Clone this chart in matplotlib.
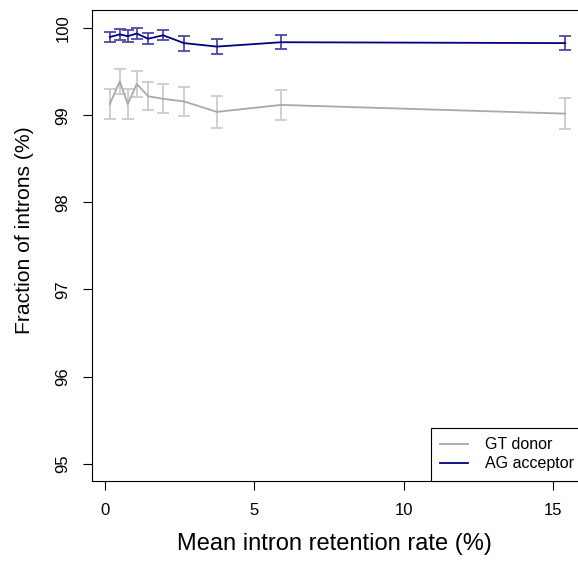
import numpy as np
import matplotlib
matplotlib.use("Agg")
import matplotlib.pyplot as plt
from matplotlib.lines import Line2D

plt.rcParams['font.family'] = ['Liberation Sans', 'DejaVu Sans']

# valores
retencao = [0.17, 0.5, 0.77, 1.07, 1.45, 1.95, 2.65, 3.75, 5.9, 15.4]
gt_doador = [99.13, 99.39, 99.13, 99.36, 99.22, 99.19, 99.16, 99.04, 99.12, 99.02]
gt_erro = [0.17, 0.14, 0.17, 0.15, 0.16, 0.165, 0.17, 0.18, 0.17, 0.18]
ag_aceptor = [99.90, 99.93, 99.91, 99.94, 99.88, 99.92, 99.83, 99.79, 99.84, 99.83]
ag_erro = [0.063, 0.06, 0.065, 0.06, 0.065, 0.06, 0.085, 0.086, 0.078, 0.08]

cor_gt = '#a9a9a9'
cor_ag = '#000080'

fig = plt.figure(figsize=(5.78, 5.63), dpi=100)
# a caixa do grafico passa um pouco da borda direita, como no original
ax = fig.add_axes([0.159, 0.1456, 0.851, 0.8366])

ax.errorbar(retencao, gt_doador, yerr=gt_erro, color=cor_gt, ecolor='#cccccc',
            elinewidth=1.3, capsize=4.3, capthick=1.3, lw=1.3)
ax.errorbar(retencao, ag_aceptor, yerr=ag_erro, color=cor_ag, ecolor='#4a4aa8',
            elinewidth=1.3, capsize=4.3, capthick=1.3, lw=1.3)

ax.set_xlim(-0.43, 16.02)
ax.set_ylim(94.80, 100.21)
ax.set_xticks([0, 5, 10, 15])
ax.set_yticks([95, 96, 97, 98, 99, 100])
ax.tick_params(axis='both', labelsize=12, length=6.5, width=0.8, pad=9)
for lab in ax.get_yticklabels():
    lab.set_rotation(90)
    lab.set_va('center')

ax.set_xlabel('Mean intron retention rate (%)', fontsize=17)
ax.xaxis.set_label_coords(0.494, -0.11)
ax.set_ylabel('Fraction of introns (%)', fontsize=15.2)
ax.yaxis.set_label_coords(-0.118, 0.533)

handles = [Line2D([], [], color=cor_gt, lw=1.3), Line2D([], [], color=cor_ag, lw=1.3)]
leg = ax.legend(handles, ['GT donor', 'AG acceptor'], loc='lower right', fontsize=11.5,
                fancybox=False, edgecolor='black', framealpha=1, borderaxespad=0,
                handlelength=1.7, borderpad=0.6, labelspacing=0.25, handletextpad=1.1)
leg.get_frame().set_linewidth(0.8)

fig.savefig('out.png', dpi=100)
